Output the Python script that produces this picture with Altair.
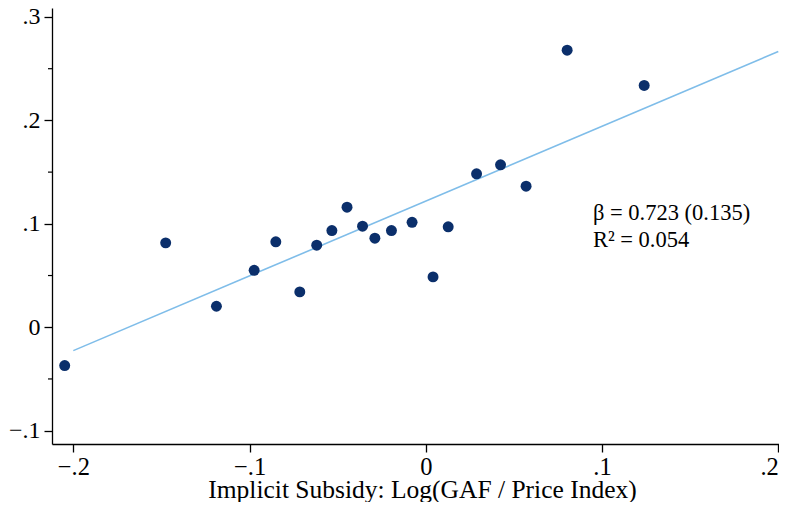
import altair as alt
import pandas as pd

# Binned scatter points
xs = [-0.2049, -0.1476, -0.1188, -0.0974, -0.0851, -0.0715, -0.0619, -0.0533,
      -0.0447, -0.0359, -0.0289, -0.0195, -0.0078, 0.0041, 0.0127, 0.0288,
      0.0424, 0.0569, 0.0802, 0.1239]
ys = [-0.0370, 0.0816, 0.0203, 0.0551, 0.0826, 0.0342, 0.0793, 0.0935,
      0.1161, 0.0977, 0.0861, 0.0935, 0.1015, 0.0487, 0.0971, 0.1484,
      0.1571, 0.1364, 0.2679, 0.2338]

# Fitted line endpoints
fit_x = [-0.2, 0.2]
fit_y = [-0.0226, 0.2666]

# Axis ticks
x_ticks = [-0.2, -0.1, 0.0, 0.1, 0.2]
y_ticks = [-0.1, 0.0, 0.1, 0.2, 0.3]
y_minor = [-0.05, 0.05, 0.15, 0.25]

# Annotation
ann_text = ["β = 0.723 (0.135)", "R² = 0.054"]
ann_x = [0.0948, 0.0948]
ann_y = [0.110, 0.0848]

x_title = "Implicit Subsidy: Log(GAF / Price Index)"

FONT = "Liberation Serif"
label_expr = "datum.value == 0 ? '0' : replace(format(datum.value, '.1f'), '0.', '.')"

xscale = alt.Scale(domain=[-0.2121, 0.2004], nice=False, zero=False)
yscale = alt.Scale(domain=[-0.1129, 0.3087], nice=False, zero=False)

pts = pd.DataFrame({"x": xs, "y": ys})
fit = pd.DataFrame({"x": fit_x, "y": fit_y})
minor = pd.DataFrame({"y": y_minor})
ann = pd.DataFrame({"x": ann_x, "y": ann_y, "t": ann_text})

xaxis = alt.Axis(
    values=x_ticks, labelExpr=label_expr, title=x_title,
    tickSize=8, labelPadding=3, grid=False, labelFontSize=24.5,
    labelAlign={"condition": {"test": "datum.value > 0.15", "value": "right"}, "value": "center"},
    titleBaseline="alphabetic", titleY=53, titleX=370, titleAlign="center",
    titleFontSize=25.5,
)
yaxis = alt.Axis(values=y_ticks, labelExpr=label_expr, title=None,
                 tickSize=8, labelPadding=4, grid=False, labelFontSize=24)

line = alt.Chart(fit).mark_line(color="#7fbde9", strokeWidth=1.6).encode(
    x=alt.X("x:Q", scale=xscale, axis=xaxis),
    y=alt.Y("y:Q", scale=yscale, axis=yaxis),
)

dots = alt.Chart(pts).mark_circle(color="#0b2f6b", opacity=1, size=120).encode(
    x=alt.X("x:Q", scale=xscale),
    y=alt.Y("y:Q", scale=yscale),
)

minor_ticks = alt.Chart(minor).mark_rule(color="black", strokeWidth=1.2).encode(
    y=alt.Y("y:Q", scale=yscale),
    x=alt.value(-4),
    x2=alt.value(0),
)

labels = alt.Chart(ann).mark_text(align="left", baseline="middle", font=FONT,
                                  fontSize=22.5, color="black").encode(
    x=alt.X("x:Q", scale=xscale),
    y=alt.Y("y:Q", scale=yscale),
    text="t:N",
)

chart = alt.layer(line, minor_ticks, dots, labels).properties(
    width=727, height=436,
    autosize=alt.AutoSizeParams(type="none"),
    padding={"left": 44, "top": 0, "right": 0, "bottom": 58},
).configure_view(stroke=None).configure_axis(
    labelFont=FONT, titleFont=FONT, labelFontSize=25, titleFontSize=25,
    labelColor="black", titleColor="black", titleFontWeight="normal",
    domainColor="black", tickColor="black", domainWidth=1.3, tickWidth=1.3,
)

chart.save("out.html", embed_options={"renderer": "svg", "actions": False})
